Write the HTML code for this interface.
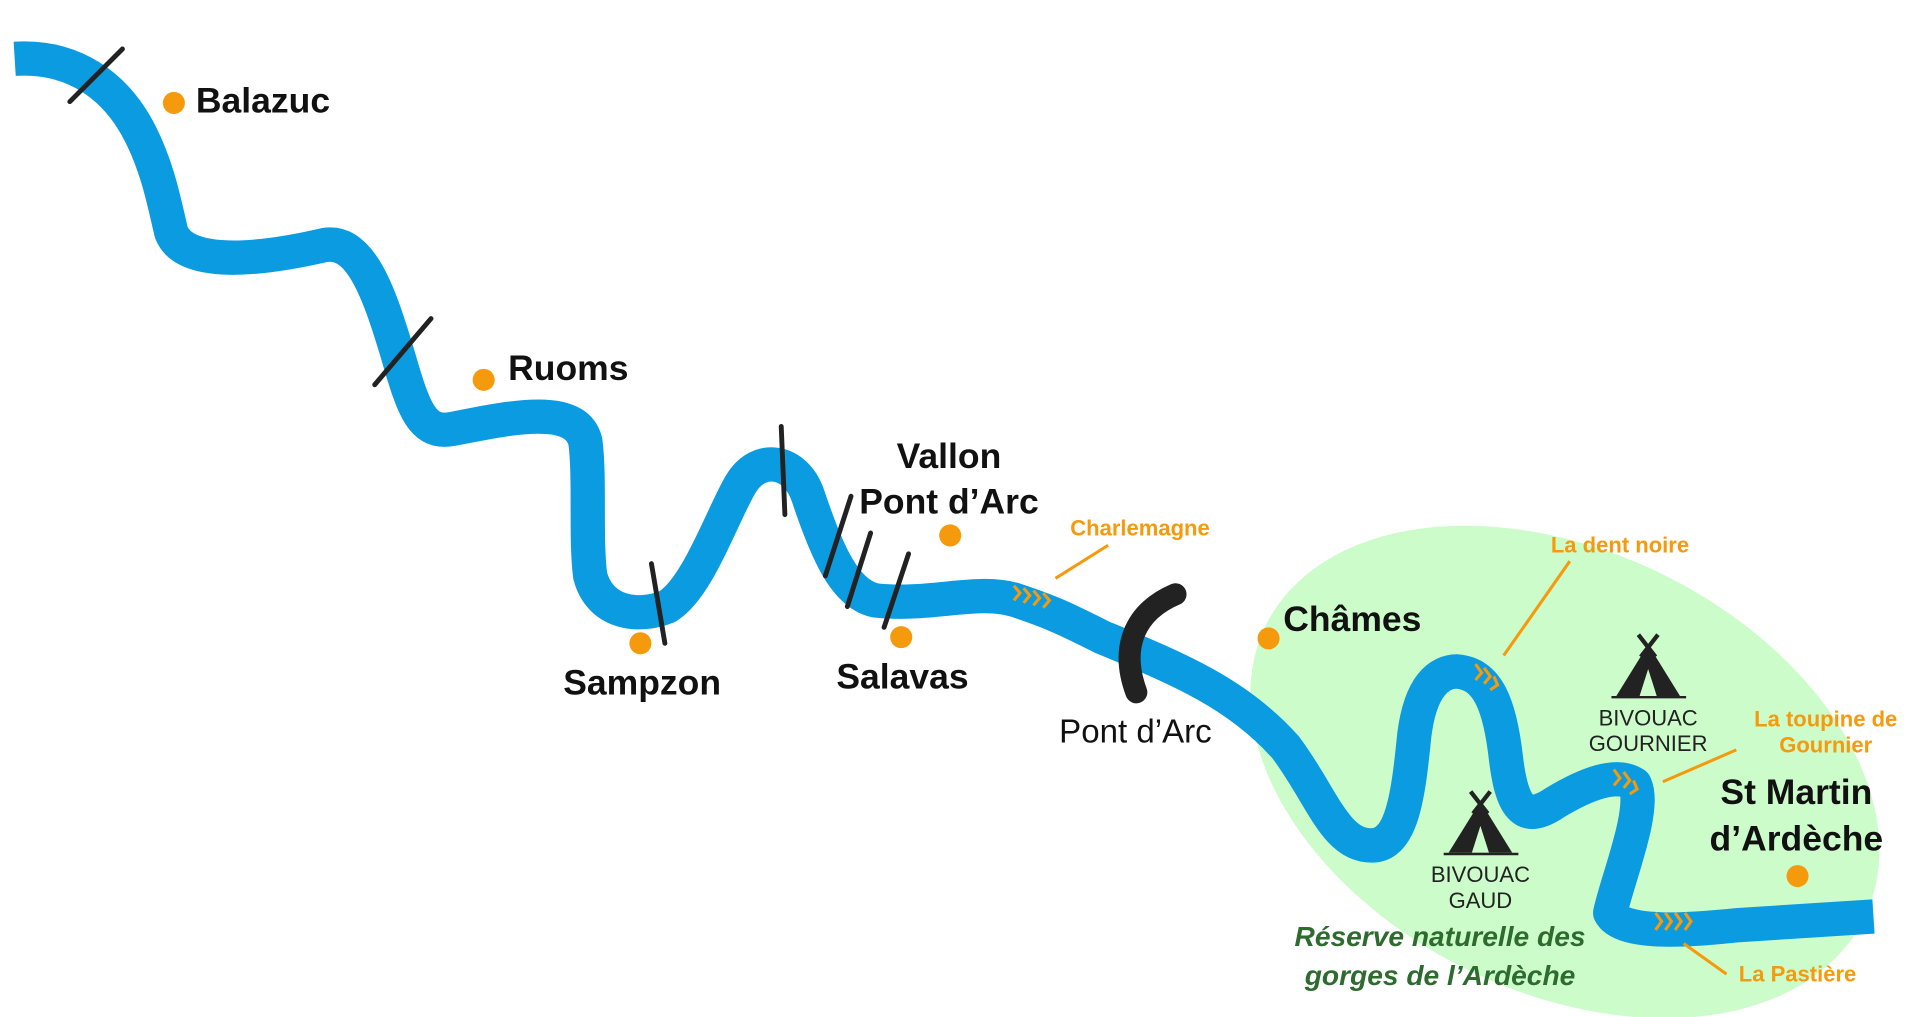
<!DOCTYPE html>
<html><head><meta charset="utf-8"><style>
html,body{margin:0;padding:0;background:#fff;width:1920px;height:1017px;overflow:hidden}
svg{display:block}
text{font-family:"Liberation Sans",sans-serif}
.b{font-weight:bold;font-size:29px;fill:#111}
.o{font-weight:bold;font-size:18px;fill:#f59a0c}
.s{font-size:18px;fill:#222}
</style></head><body>
<svg width="1920" height="1017" viewBox="0 0 1568 830" preserveAspectRatio="none">
<ellipse cx="1278" cy="630" rx="272" ry="180" transform="rotate(26 1278 630)" fill="#cdfccb"/>
<path d="M12,48 C60,45 95,70 115,110 C130,140 135,170 140,190 C150,215 200,215 265,200 C295,195 310,240 325,290 C338,335 345,355 370,350 C420,340 470,330 478,360 C482,390 478,440 482,470 C490,500 520,505 545,495 C570,480 590,420 605,395 C620,370 650,375 660,405 C675,450 690,485 715,490 C760,495 800,480 830,490 C860,500 870,505 900,520 C960,545 1010,565 1050,610 C1080,650 1090,690 1120,690 C1145,690 1150,650 1155,600 C1160,560 1175,548 1190,548 C1215,550 1225,575 1230,620 C1235,660 1245,672 1270,655 C1295,640 1320,630 1335,640 C1345,660 1320,720 1315,745 C1325,765 1390,758 1420,755 L1530,748" fill="none" stroke="#0a9be0" stroke-width="28" stroke-linejoin="round"/>
<g stroke="#222" stroke-width="4" stroke-linecap="round">
<line x1="57" y1="83" x2="100" y2="40"/>
<line x1="306" y1="314" x2="352" y2="260"/>
<line x1="532" y1="460" x2="543" y2="525"/>
<line x1="638" y1="348" x2="641" y2="420"/>
<line x1="674" y1="470" x2="695" y2="405"/>
<line x1="692" y1="495" x2="711" y2="435"/>
<line x1="722" y1="512" x2="742" y2="452"/>
</g>
<path d="M928,565 C915,530 925,500 960,485" fill="none" stroke="#222" stroke-width="18" stroke-linecap="round"/>
<g fill="#f59a0c">
<circle cx="142" cy="84" r="9"/><circle cx="395" cy="310" r="9"/><circle cx="523" cy="525" r="9"/>
<circle cx="736" cy="520" r="9"/><circle cx="776" cy="437" r="9"/><circle cx="1036" cy="521" r="9"/><circle cx="1468" cy="715" r="9"/>
</g>
<g stroke="#f59a0c" stroke-width="2.5" fill="none">
<line x1="862" y1="472" x2="905" y2="445"/>
<line x1="1228" y1="535" x2="1282" y2="458"/>
<line x1="1358" y1="638" x2="1418" y2="612"/>
<line x1="1375" y1="770" x2="1410" y2="795"/>
<path d="M828,478 l5,6 -5,6 M836,480 l5,6 -5,6 M844,482 l5,6 -5,6 M852,484 l5,6 -5,6"/>
<path d="M1205,542 l5,7 -5,6 M1212,545 l5,7 -5,6 M1220,552 l3,7 -6,4"/>
<path d="M1318,628 l5,7 -5,6 M1326,630 l5,7 -5,6 M1334,637 l3,7 -6,4"/>
<path d="M1352,745 l5,7 -5,7 M1360,745 l5,7 -5,7 M1368,745 l5,7 -5,7 M1376,745 l5,7 -5,7"/>
</g>
<g fill="#222">
<path d="M1320,568 L1346,526 L1372,568 Z"/><path d="M1339,568 L1346,546 L1353,568 Z" fill="#cdfccb"/>
<line x1="1338" y1="518" x2="1352" y2="536" stroke="#222" stroke-width="3.5"/><line x1="1354" y1="518" x2="1340" y2="536" stroke="#222" stroke-width="3.5"/>
<line x1="1316" y1="569" x2="1377" y2="569" stroke="#222" stroke-width="2"/>
<path d="M1183,696 L1209,654 L1235,696 Z"/><path d="M1202,696 L1209,674 L1216,696 Z" fill="#cdfccb"/>
<line x1="1201" y1="646" x2="1215" y2="664" stroke="#222" stroke-width="3.5"/><line x1="1217" y1="646" x2="1203" y2="664" stroke="#222" stroke-width="3.5"/>
<line x1="1179" y1="697" x2="1240" y2="697" stroke="#222" stroke-width="2"/>
</g>
<text class="b" x="160" y="92">Balazuc</text>
<text class="b" x="415" y="310">Ruoms</text>
<text class="b" x="460" y="567">Sampzon</text>
<text class="b" x="775" y="382" text-anchor="middle">Vallon</text>
<text class="b" x="775" y="419" text-anchor="middle">Pont d’Arc</text>
<text class="b" x="683" y="562">Salavas</text>
<text x="865" y="606" style="font-size:27px;fill:#111">Pont d’Arc</text>
<text class="b" x="1048" y="515">Châmes</text>
<text class="b" x="1467" y="656" text-anchor="middle">St Martin</text>
<text class="b" x="1467" y="694" text-anchor="middle">d’Ardèche</text>
<text class="o" x="931" y="437" text-anchor="middle">Charlemagne</text>
<text class="o" x="1323" y="451" text-anchor="middle">La dent noire</text>
<text class="o" x="1491" y="593" text-anchor="middle">La toupine de</text>
<text class="o" x="1491" y="614" text-anchor="middle">Gournier</text>
<text class="o" x="1468" y="801" text-anchor="middle">La Pastière</text>
<text class="s" x="1346" y="592" text-anchor="middle">BIVOUAC</text>
<text class="s" x="1346" y="613" text-anchor="middle">GOURNIER</text>
<text class="s" x="1209" y="720" text-anchor="middle">BIVOUAC</text>
<text class="s" x="1209" y="741" text-anchor="middle">GAUD</text>
<text x="1176" y="772" text-anchor="middle" style="font-size:23px;font-weight:bold;font-style:italic;fill:#2e6b2e">Réserve naturelle des</text>
<text x="1176" y="804" text-anchor="middle" style="font-size:23px;font-weight:bold;font-style:italic;fill:#2e6b2e">gorges de l’Ardèche</text>
</svg>
</body></html>
